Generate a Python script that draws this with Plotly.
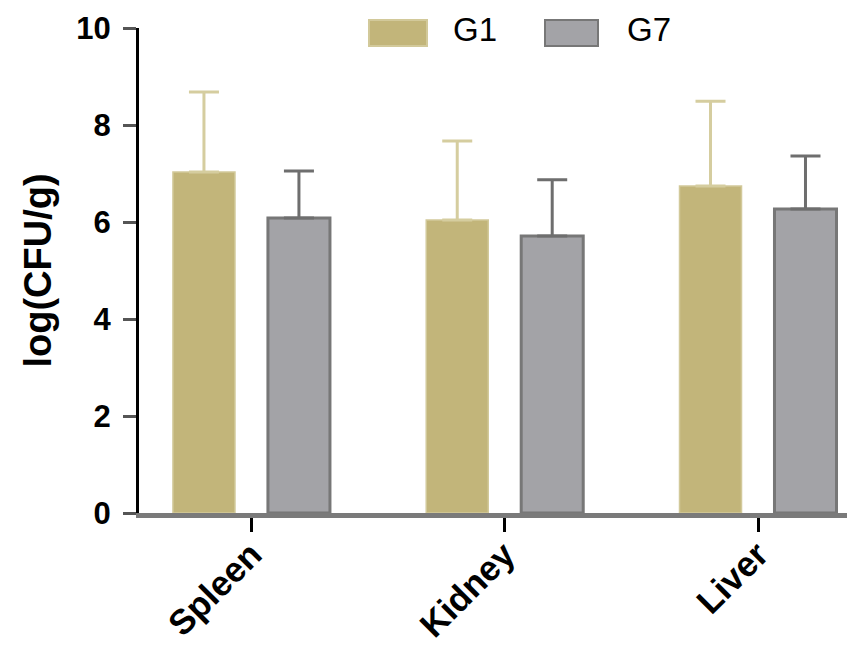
import plotly.graph_objects as go

categories = ["Spleen", "Kidney", "Liver"]
g1_mean = [7.03, 6.04, 6.74]
g1_sd = [1.65, 1.63, 1.75]
g7_mean = [6.08, 5.71, 6.27]
g7_sd = [0.97, 1.16, 1.09]
series_names = ["G1", "G7"]
y_ticks = [0, 2, 4, 6, 8, 10]

G1_FILL = "#C2B57A"
G1_EDGE = "#D2C99A"
G1_ERR = "#D5CD9F"
G7_FILL = "#A3A3A7"
G7_LINE = "#777777"
G7_ERR = "#6E6E6E"
FONT = "Liberation Sans, Arial, sans-serif"

# figure is placed at an 8px offset in the page; plot area spans page x 139..855, y 28..512.5
L, T, W, H = 131, 20, 847, 638
PW, PH = 716, 485


def px(xp):
    return (xp - 8 - L) / PW


def py(yp):
    return (T + PH - (yp - 8)) / PH


fig = go.Figure()
fig.add_trace(go.Bar(
    x=categories, y=g1_mean, name=series_names[0],
    marker=dict(color=G1_FILL, line=dict(color=G1_EDGE, width=1.5)),
    error_y=dict(type="data", array=g1_sd, arrayminus=[0] * len(g1_sd), symmetric=False,
                 color=G1_ERR, thickness=3, width=15),
    showlegend=False,
))
fig.add_trace(go.Bar(
    x=categories, y=g7_mean, name=series_names[1],
    marker=dict(color=G7_FILL, line=dict(color=G7_LINE, width=3)),
    error_y=dict(type="data", array=g7_sd, arrayminus=[0] * len(g7_sd), symmetric=False,
                 color=G7_ERR, thickness=3, width=15),
    showlegend=False,
))

# custom legend with wide swatches, as in the original
legend_items = [
    (series_names[0], G1_FILL, G1_EDGE, 369, 427, 453),
    (series_names[1], G7_FILL, G7_LINE, 545, 598, 627),
]
for name, fill, line, x0, x1, tx in legend_items:
    fig.add_shape(type="rect", xref="paper", yref="paper",
                  x0=px(x0), x1=px(x1), y0=py(46), y1=py(20),
                  fillcolor=fill, line=dict(color=line, width=2))
    fig.add_annotation(xref="paper", yref="paper", x=px(tx), y=py(30),
                       text=name, showarrow=False, xanchor="left", yanchor="middle",
                       xshift=-2, font=dict(family=FONT, size=33, color="black"))

fig.update_layout(
    width=W, height=H,
    margin=dict(l=L, r=W - L - PW, t=T, b=H - T - PH, autoexpand=False),
    paper_bgcolor="white", plot_bgcolor="white",
    barmode="group", bargap=0.25, bargroupgap=0.347,
    showlegend=False,
    font=dict(family=FONT, color="black"),
    xaxis=dict(
        range=[-0.444, 2.383], showline=True, linecolor="#7A7A7A", linewidth=5,
        ticks="outside", ticklen=14, tickwidth=3, tickcolor="black",
        ticklabelstandoff=-12,
        tickangle=-45, tickfont=dict(family=FONT, size=35, weight="bold"),
        showgrid=False, zeroline=False, automargin=False,
    ),
    yaxis=dict(
        range=[0, 10], tickvals=y_ticks, showline=True, linecolor="black", linewidth=3,
        ticks="outside", ticklen=13, tickwidth=3, tickcolor="#555",
        ticklabelstandoff=6,
        tickfont=dict(family=FONT, size=31, weight="bold"),
        showgrid=False, zeroline=False, automargin=False,
        title=dict(text="log(CFU/g)", font=dict(family=FONT, size=38, weight="bold"), standoff=14),
    ),
)

fig.write_html("out.html")
